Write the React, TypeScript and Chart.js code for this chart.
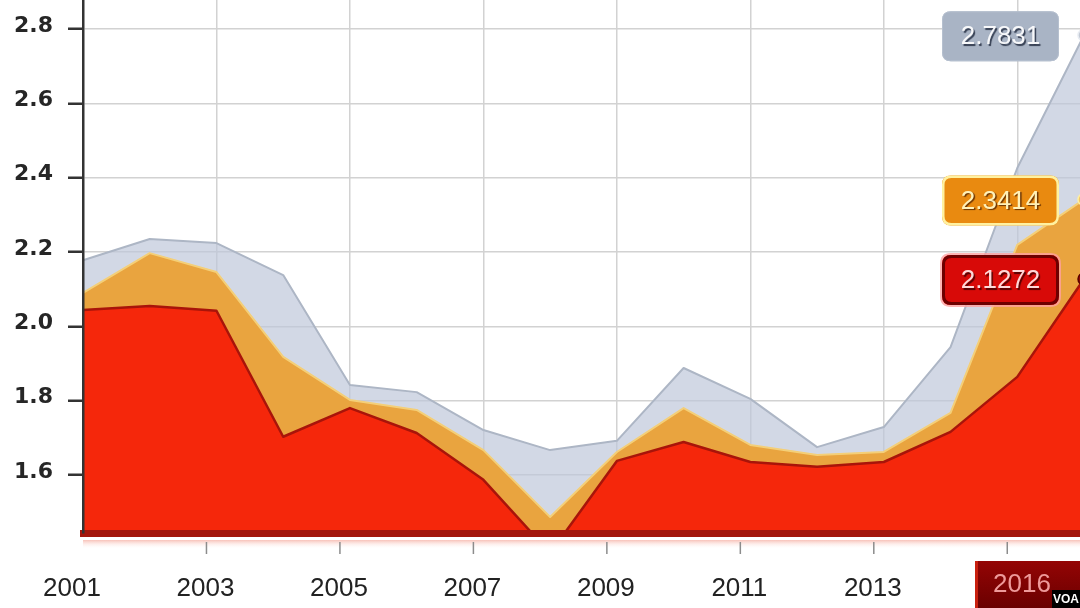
import { useEffect, useRef } from 'react';
import { Chart, registerables } from 'chart.js';

Chart.register(...registerables);

const years = ['2001', '2002', '2003', '2004', '2005', '2006', '2007', '2008', '2009', '2010', '2011', '2012', '2013', '2014', '2015', '2016'];
const shownYears = ['2001', '2003', '2005', '2007', '2009', '2011', '2013'];
const highlightYear = '2016';
const yTicks = [1.6, 1.8, 2.0, 2.2, 2.4, 2.6, 2.8];

const redSeries = [2.044, 2.055, 2.042, 1.703, 1.78, 1.713, 1.587, 1.39, 1.638, 1.689, 1.635, 1.622, 1.635, 1.716, 1.864, 2.1272];
const orangeSeries = [2.09, 2.197, 2.146, 1.918, 1.802, 1.775, 1.667, 1.487, 1.662, 1.78, 1.681, 1.654, 1.662, 1.767, 2.219, 2.3414];
const greySeries = [2.178, 2.235, 2.224, 2.138, 1.842, 1.823, 1.721, 1.667, 1.692, 1.888, 1.805, 1.675, 1.729, 1.944, 2.426, 2.7831];

const watermark = 'VOA';

const CANVAS_W = 1090;
const CANVAS_H = 608;

function roundRect(ctx: CanvasRenderingContext2D, x: number, y: number, w: number, h: number, r: number) {
  ctx.beginPath();
  ctx.moveTo(x + r, y);
  ctx.lineTo(x + w - r, y);
  ctx.quadraticCurveTo(x + w, y, x + w, y + r);
  ctx.lineTo(x + w, y + h - r);
  ctx.quadraticCurveTo(x + w, y + h, x + w - r, y + h);
  ctx.lineTo(x + r, y + h);
  ctx.quadraticCurveTo(x, y + h, x, y + h - r);
  ctx.lineTo(x, y + r);
  ctx.quadraticCurveTo(x, y, x + r, y);
  ctx.closePath();
}

const overlayPlugin = {
  id: 'overlay',
  afterDraw(chart: any) {
    const ctx: CanvasRenderingContext2D = chart.ctx;
    const xs = chart.scales.x;
    const ys = chart.scales.y;
    const last = years.length - 1;
    const px = xs.getPixelForValue(last);
    const bottom = chart.chartArea.bottom;

    ctx.save();
    // soft pink fade under axis
    const g = ctx.createLinearGradient(0, bottom + 7, 0, bottom + 16);
    g.addColorStop(0, 'rgba(240,120,100,0.45)');
    g.addColorStop(1, 'rgba(255,255,255,0)');
    ctx.fillStyle = g;
    ctx.fillRect(chart.chartArea.left, bottom + 7, chart.chartArea.right - chart.chartArea.left, 9);

    // tick marks under axis (offset like the labels)
    ctx.strokeStyle = '#8c8c8c';
    ctx.lineWidth = 1.5;
    for (let i = 2; i < years.length; i += 2) {
      const tx = xs.getPixelForValue(i) - 10;
      ctx.beginPath();
      ctx.moveTo(tx, bottom + 9);
      ctx.lineTo(tx, bottom + 21);
      ctx.stroke();
    }

    // value boxes
    const boxes = [
      { v: greySeries[last], fill: '#a9b4c5', stroke: '#b6c0cf', sw: 1, text: '#f7f8fa', shadow: 'rgba(30,40,60,0.85)', glow: '' },
      { v: orangeSeries[last], fill: '#e98a10', stroke: '#fff1a0', sw: 2.5, text: '#fff1b8', shadow: 'rgba(90,40,0,0.9)', glow: '' },
      { v: redSeries[last], fill: '#d80a08', stroke: '#6e0000', sw: 3, text: '#ffd8d8', shadow: 'rgba(60,0,0,0.85)', glow: 'rgba(255,160,160,0.8)' },
    ];
    const bw = 117;
    const bh = 50;
    const bx = px - 142;
    for (const b of boxes) {
      const cy = ys.getPixelForValue(b.v) + 1;
      const by = cy - bh / 2;
      if (b.glow) {
        roundRect(ctx, bx - 2, by - 2, bw + 4, bh + 4, 11);
        ctx.fillStyle = b.glow;
        ctx.fill();
      }
      roundRect(ctx, bx, by, bw, bh, 9);
      ctx.fillStyle = b.fill;
      ctx.fill();
      ctx.lineWidth = b.sw;
      ctx.strokeStyle = b.stroke;
      roundRect(ctx, bx + b.sw / 2, by + b.sw / 2, bw - b.sw, bh - b.sw, 8);
      ctx.stroke();
      ctx.save();
      ctx.font = '26px "Liberation Sans", Arial, sans-serif';
      ctx.textAlign = 'center';
      ctx.textBaseline = 'middle';
      ctx.shadowColor = b.shadow;
      ctx.shadowOffsetX = 1.5;
      ctx.shadowOffsetY = 1.5;
      ctx.shadowBlur = 1;
      ctx.fillStyle = b.text;
      ctx.fillText(b.v.toFixed(4), bx + bw / 2, cy + 1);
      ctx.restore();
    }

    // highlighted year box
    const hx = px - 109;
    const hy = 561;
    const hg = ctx.createLinearGradient(0, hy, 0, CANVAS_H);
    hg.addColorStop(0, '#940505');
    hg.addColorStop(1, '#6a0000');
    ctx.fillStyle = hg;
    ctx.fillRect(hx, hy, 120, CANVAS_H - hy);
    ctx.fillStyle = '#c8200f';
    ctx.fillRect(hx, hy, 3, CANVAS_H - hy);
    ctx.font = '26px "Liberation Sans", Arial, sans-serif';
    ctx.textAlign = 'center';
    ctx.textBaseline = 'middle';
    ctx.fillStyle = '#ee9a9a';
    ctx.fillText(highlightYear, px - 62, 585);

    // watermark
    ctx.fillStyle = '#000';
    ctx.fillRect(1052, 590, 30, 18);
    ctx.fillStyle = '#fff';
    ctx.font = 'bold 12px "Liberation Sans", Arial, sans-serif';
    ctx.fillText(watermark, 1066, 600);
    ctx.restore();
  },
};

export default function App() {
  const ref = useRef<HTMLCanvasElement>(null);

  useEffect(() => {
    if (!ref.current) return;
    const last = years.length - 1;
    const pr = years.map((_, i) => (i === last ? 6 : 0));
    const chart = new Chart(ref.current, {
      type: 'line',
      data: {
        labels: years,
        datasets: [
          {
            label: 'red',
            data: redSeries,
            borderColor: '#a8140a',
            backgroundColor: '#f5270b',
            borderWidth: 2.5,
            fill: 'start',
            tension: 0,
            pointRadius: pr,
            pointBackgroundColor: '#8e0a04',
            pointBorderColor: '#5a0000',
            pointBorderWidth: 1.5,
            borderJoinStyle: 'round',
          },
          {
            label: 'orange',
            data: orangeSeries,
            borderColor: '#f4cf78',
            backgroundColor: '#e9a43f',
            borderWidth: 2,
            fill: 'start',
            tension: 0,
            pointRadius: pr,
            pointBackgroundColor: '#f3c766',
            pointBorderColor: '#fff0a0',
            pointBorderWidth: 1.5,
            borderJoinStyle: 'round',
          },
          {
            label: 'grey',
            data: greySeries,
            borderColor: '#adb6c5',
            backgroundColor: 'rgba(188,198,216,0.68)',
            borderWidth: 2,
            fill: 'start',
            tension: 0,
            pointRadius: pr,
            pointBackgroundColor: '#c3cad6',
            pointBorderColor: '#e8ecf2',
            pointBorderWidth: 1.5,
            borderJoinStyle: 'round',
          },
        ],
      },
      options: {
        animation: false,
        responsive: true,
        maintainAspectRatio: false,
        layout: { autoPadding: false, padding: { left: 0, right: CANVAS_W - 1084, top: 0, bottom: 0 } },
        plugins: { legend: { display: false }, tooltip: { enabled: false } },
        events: [],
        scales: {
          x: {
            type: 'category',
            offset: false,
            afterFit: (s: any) => {
              s.height = 75;
              s.paddingLeft = 0;
              s.paddingRight = 0;
            },
            grid: {
              color: (c: any) => (c.index % 2 === 0 ? '#d2d2d2' : 'rgba(0,0,0,0)'),
              lineWidth: 1.5,
              drawTicks: false,
            },
            border: { display: true, color: '#a3160c', width: 7, z: 1 },
            ticks: {
              autoSkip: false,
              maxRotation: 0,
              padding: 40,
              labelOffset: -11,
              color: '#222222',
              font: { family: '"Liberation Sans", Arial, sans-serif', size: 26 },
              callback: (_v: any, i: number) => (shownYears.includes(years[i]) ? years[i] : ''),
            },
          },
          y: {
            type: 'linear',
            min: 1.444,
            max: 2.878,
            afterBuildTicks: (s: any) => {
              s.ticks = yTicks.map((v) => ({ value: v }));
            },
            afterFit: (s: any) => {
              s.width = 83;
              s.paddingTop = 0;
              s.paddingBottom = 0;
            },
            grid: {
              color: '#d2d2d2',
              lineWidth: 1.5,
              drawTicks: true,
              tickLength: 15,
              tickColor: '#333333',
              tickWidth: 2.5,
            },
            border: { display: true, color: '#333333', width: 2.5, z: 1 },
            ticks: {
              padding: 15,
              labelOffset: -3,
              color: '#262626',
              font: { family: '"DejaVu Sans", Verdana, sans-serif', size: 22, weight: 'bold' },
              callback: (v: any) => Number(v).toFixed(1),
            },
          },
        },
      },
      plugins: [overlayPlugin],
    } as any);
    return () => chart.destroy();
  }, []);

  return (
    <div style={{ position: 'fixed', left: 0, top: 0, width: 1080, height: 608, overflow: 'hidden', background: '#ffffff' }}>
      <div style={{ position: 'absolute', left: 0, top: 0, width: CANVAS_W, height: CANVAS_H }}>
        <canvas ref={ref} />
      </div>
    </div>
  );
}
